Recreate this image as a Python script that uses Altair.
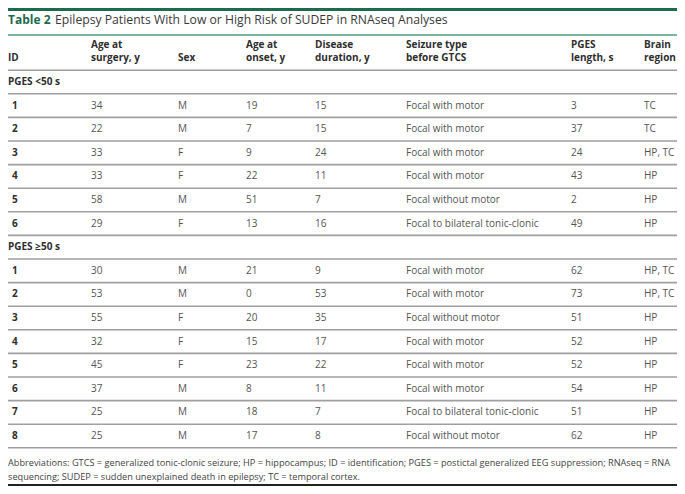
import altair as alt
import pandas as pd

# ---------------- data ----------------
headers_line1 = ["", "Age at", "", "Age at", "Disease", "Seizure type", "PGES", "Brain"]
headers_line2 = ["ID", "surgery, y", "Sex", "onset, y", "duration, y", "before GTCS", "length, s", "region"]

group_labels = ["PGES <50 s", "PGES \u226550 s"]

low_id = ["1", "2", "3", "4", "5", "6"]
low_age_surgery = ["34", "22", "33", "33", "58", "29"]
low_sex = ["M", "M", "F", "F", "M", "F"]
low_age_onset = ["19", "7", "9", "22", "51", "13"]
low_duration = ["15", "15", "24", "11", "7", "16"]
low_seizure = ["Focal with motor", "Focal with motor", "Focal with motor",
               "Focal with motor", "Focal without motor", "Focal to bilateral tonic-clonic"]
low_pges = ["3", "37", "24", "43", "2", "49"]
low_region = ["TC", "TC", "HP, TC", "HP", "HP", "HP"]

high_id = ["1", "2", "3", "4", "5", "6", "7", "8"]
high_age_surgery = ["30", "53", "55", "32", "45", "37", "25", "25"]
high_sex = ["M", "M", "F", "F", "F", "M", "M", "M"]
high_age_onset = ["21", "0", "20", "15", "23", "8", "18", "17"]
high_duration = ["9", "53", "35", "17", "22", "11", "7", "8"]
high_seizure = ["Focal with motor", "Focal with motor", "Focal without motor",
                "Focal with motor", "Focal with motor", "Focal with motor",
                "Focal to bilateral tonic-clonic", "Focal without motor"]
high_pges = ["62", "73", "51", "52", "52", "54", "51", "62"]
high_region = ["HP, TC", "HP, TC", "HP", "HP", "HP", "HP", "HP", "HP"]

title_bold = "Table 2"
title_rest = "Epilepsy Patients With Low or High Risk of SUDEP in RNAseq Analyses"
footnote_1 = ("Abbreviations: GTCS = generalized tonic-clonic seizure; HP = hippocampus; "
              "ID = identification; PGES = postictal generalized EEG suppression; RNAseq = RNA")
footnote_2 = "sequencing; SUDEP = sudden unexplained death in epilepsy; TC = temporal cortex."

# ---------------- layout / style ----------------
W, H = 669, 478
COL_X = [0, 83, 170, 238, 307, 398, 563, 636]      # column left edges (px)
ROW0_PX, ROW_PITCH = 74.0, 23.6                     # row-unit -> px
Y_DOMAIN = [-ROW0_PX / ROW_PITCH, (H - ROW0_PX) / ROW_PITCH]
FONT = "Open Sans"
GREEN_DARK = "#1d6b4d"
GREEN_LINE = "#4d9e7c"
GRAY_RULE = "#9f9f9f"
TXT_DARK = "#2e2e2e"
TXT_VAL = "#555555"

# ---------------- build tables ----------------
cells = []
for c, (h1, h2) in enumerate(zip(headers_line1, headers_line2)):
    cells.append({"row": -1, "col": c, "text": h2, "kind": "head2"})
    if h1:
        cells.append({"row": -1, "col": c, "text": h1, "kind": "head1"})

groups = [
    (low_id, low_age_surgery, low_sex, low_age_onset, low_duration, low_seizure, low_pges, low_region),
    (high_id, high_age_surgery, high_sex, high_age_onset, high_duration, high_seizure, high_pges, high_region),
]
r = 0
for label, cols in zip(group_labels, groups):
    cells.append({"row": r, "col": 0, "text": label, "kind": "group"})
    r += 1
    for i in range(len(cols[0])):
        for c, colvals in enumerate(cols):
            cells.append({"row": r, "col": c, "text": colvals[i],
                          "kind": "id" if c == 0 else "val"})
        r += 1
n_rows = r
df = pd.DataFrame(cells)
rules = pd.DataFrame({"row": [k + 0.5 for k in range(-1, n_rows)]})

yscale = alt.Scale(domain=Y_DOMAIN, range=[0, H], zero=False, nice=False)
xscale = alt.Scale(domain=list(range(len(COL_X))), range=COL_X, zero=False, nice=False)

X = alt.X("col:Q", scale=xscale, axis=None)
Y = alt.Y("row:Q", scale=yscale, axis=None)

base = alt.Chart(df)


def text_layer(kind, color, weight="normal", size=10, dx=0, dy=0):
    return base.transform_filter(alt.datum.kind == kind).mark_text(
        align="left", baseline="middle", font=FONT, fontSize=size,
        fontWeight=weight, color=color, dx=dx, dy=dy
    ).encode(x=X, y=Y, text="text:N")


row_rules = alt.Chart(rules).mark_rule(color=GRAY_RULE, strokeWidth=1.6).encode(
    y=Y, x=alt.value(0), x2=alt.value(W))

deco = pd.DataFrame({"bold": [title_bold], "rest": [title_rest],
                     "f1": [footnote_1], "f2": [footnote_2]})
dbase = alt.Chart(deco)

top_bar = dbase.mark_rule(color=GREEN_DARK, strokeWidth=3).encode(
    y=alt.value(1.5), x=alt.value(0), x2=alt.value(W))
title_line = dbase.mark_rule(color=GREEN_LINE, strokeWidth=1.5).encode(
    y=alt.value(27), x=alt.value(0), x2=alt.value(W))
bottom_line = dbase.mark_rule(color="#222222", strokeWidth=2).encode(
    y=alt.value(477), x=alt.value(0), x2=alt.value(W))

title_b = dbase.mark_text(align="left", baseline="middle", font=FONT, fontSize=12,
                          fontWeight="bold", color=GREEN_DARK).encode(
    x=alt.value(0), y=alt.value(12), text="bold:N")
title_r = dbase.mark_text(align="left", baseline="middle", font=FONT, fontSize=12.2,
                          color="#3a3a3a").encode(
    x=alt.value(47), y=alt.value(12), text="rest:N")
foot1 = dbase.mark_text(align="left", baseline="middle", font=FONT, fontSize=9.2,
                        color="#444444").encode(
    x=alt.value(0), y=alt.value(455), text="f1:N")
foot2 = dbase.mark_text(align="left", baseline="middle", font=FONT, fontSize=9.2,
                        color="#444444").encode(
    x=alt.value(0), y=alt.value(469), text="f2:N")

chart = alt.layer(
    row_rules,
    text_layer("head1", TXT_DARK, "bold", 10, dy=-13),
    text_layer("head2", TXT_DARK, "bold", 10),
    text_layer("group", TXT_DARK, "bold", 10),
    text_layer("id", TXT_DARK, "bold", 10, dx=4),
    text_layer("val", TXT_VAL, "normal", 10),
    top_bar, title_line, bottom_line,
    title_b, title_r, foot1, foot2,
).properties(
    width=W, height=H, padding=0,
    autosize=alt.AutoSizeParams(type="none"),
    background="white",
).configure_view(strokeWidth=0)

chart.save("out.html", embed_options={"renderer": "svg", "actions": False})
